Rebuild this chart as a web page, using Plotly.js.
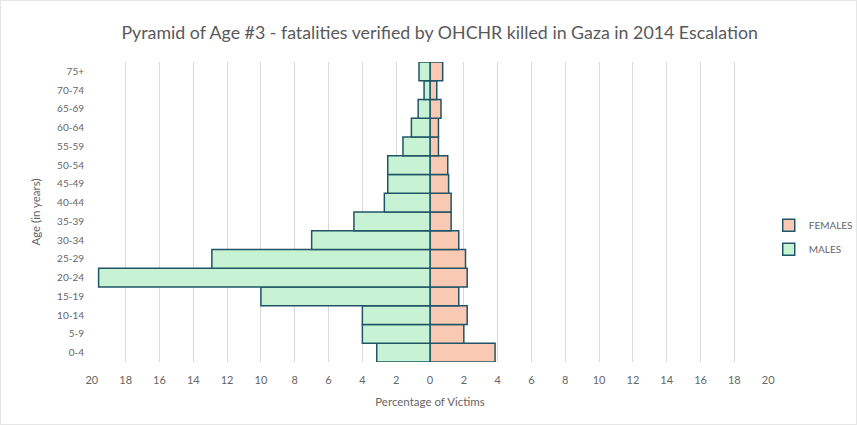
<!DOCTYPE html>
<html>
<head>
<meta charset="utf-8">
<script src="https://cdn.plot.ly/plotly-3.0.1.min.js"></script>
<style>
html,body{margin:0;padding:0;background:#fff;}
#chart{width:857px;height:425px;position:relative;}
#frame{position:absolute;left:0;top:0;width:855px;height:423px;border:1px solid #e6e6e6;pointer-events:none;}
</style>
</head>
<body>
<div id="chart"></div>
<div id="frame"></div>
<script>
const ageGroups = ["0-4","5-9","10-14","15-19","20-24","25-29","30-34","35-39","40-44","45-49","50-54","55-59","60-64","65-69","70-74","75+"];
const males = [3.15, 4.0, 4.0, 10.0, 19.6, 12.9, 7.0, 4.5, 2.7, 2.5, 2.5, 1.6, 1.1, 0.7, 0.35, 0.65];
const females = [3.85, 2.0, 2.2, 1.7, 2.2, 2.1, 1.7, 1.25, 1.25, 1.1, 1.05, 0.5, 0.5, 0.65, 0.4, 0.75];
const tickVals = [-20,-18,-16,-14,-12,-10,-8,-6,-4,-2,0,2,4,6,8,10,12,14,16,18,20];
const tickText = ["20","18","16","14","12","10","8","6","4","2","0","2","4","6","8","10","12","14","16","18","20"];

const font = "Lato, 'Open Sans', sans-serif";
const outline = "#1f5566";

const traces = [
  {
    type: "bar", orientation: "h", name: "FEMALES", legendgroup: "f",
    y: ageGroups, x: females,
    marker: {color: "#f9c9b3", line: {color: outline, width: 1.5}}
  },
  {
    type: "bar", orientation: "h", name: "MALES", legendgroup: "m",
    y: ageGroups, x: males.map(v => -v),
    marker: {color: "#c8f2d4", line: {color: outline, width: 1.5}}
  }
];

const layout = {
  width: 857, height: 425,
  margin: {l: 91, r: 88, t: 62, b: 63, autoexpand: false},
  paper_bgcolor: "#fff", plot_bgcolor: "#fff",
  font: {family: font, color: "#595959", size: 11},
  title: {text: "Pyramid of Age #3 - fatalities verified by OHCHR killed in Gaza in 2014 Escalation",
          font: {family: font, size: 17.8, color: "#595959"}, x: 0.513, xref: "container", y: 0.922, yref: "container", xanchor: "center", yanchor: "middle"},
  barmode: "overlay",
  bargap: 0,
  xaxis: {
    range: [-20.05, 20.05], tickvals: tickVals, ticktext: tickText,
    showgrid: true, gridcolor: "#d9d9d9", gridwidth: 1, zeroline: false,
    showline: false, ticks: "", tickfont: {size: 11, color: "#666666"}, ticklabelstandoff: 10,
    title: {text: "Percentage of Victims", font: {size: 11.5, color: "#666666"}, standoff: 12}
  },
  yaxis: {
    type: "category", categoryorder: "array", categoryarray: ageGroups,
    showgrid: false, zeroline: false, showline: false, ticks: "",
    tickfont: {size: 10, color: "#666666"}, ticklabelstandoff: 6,
    title: {text: "Age (in years)", font: {size: 11.5, color: "#666666"}, standoff: 14}
  },
  legend: {x: 0.897, y: 0.442, xref: "container", yref: "container", xanchor: "left", yanchor: "middle", traceorder: "grouped",
           font: {size: 10, color: "#666666"}, itemwidth: 30, tracegroupgap: 5},
  showlegend: true
};

Plotly.newPlot("chart", traces, layout, {displayModeBar: false, staticPlot: true});
</script>
</body>
</html>
